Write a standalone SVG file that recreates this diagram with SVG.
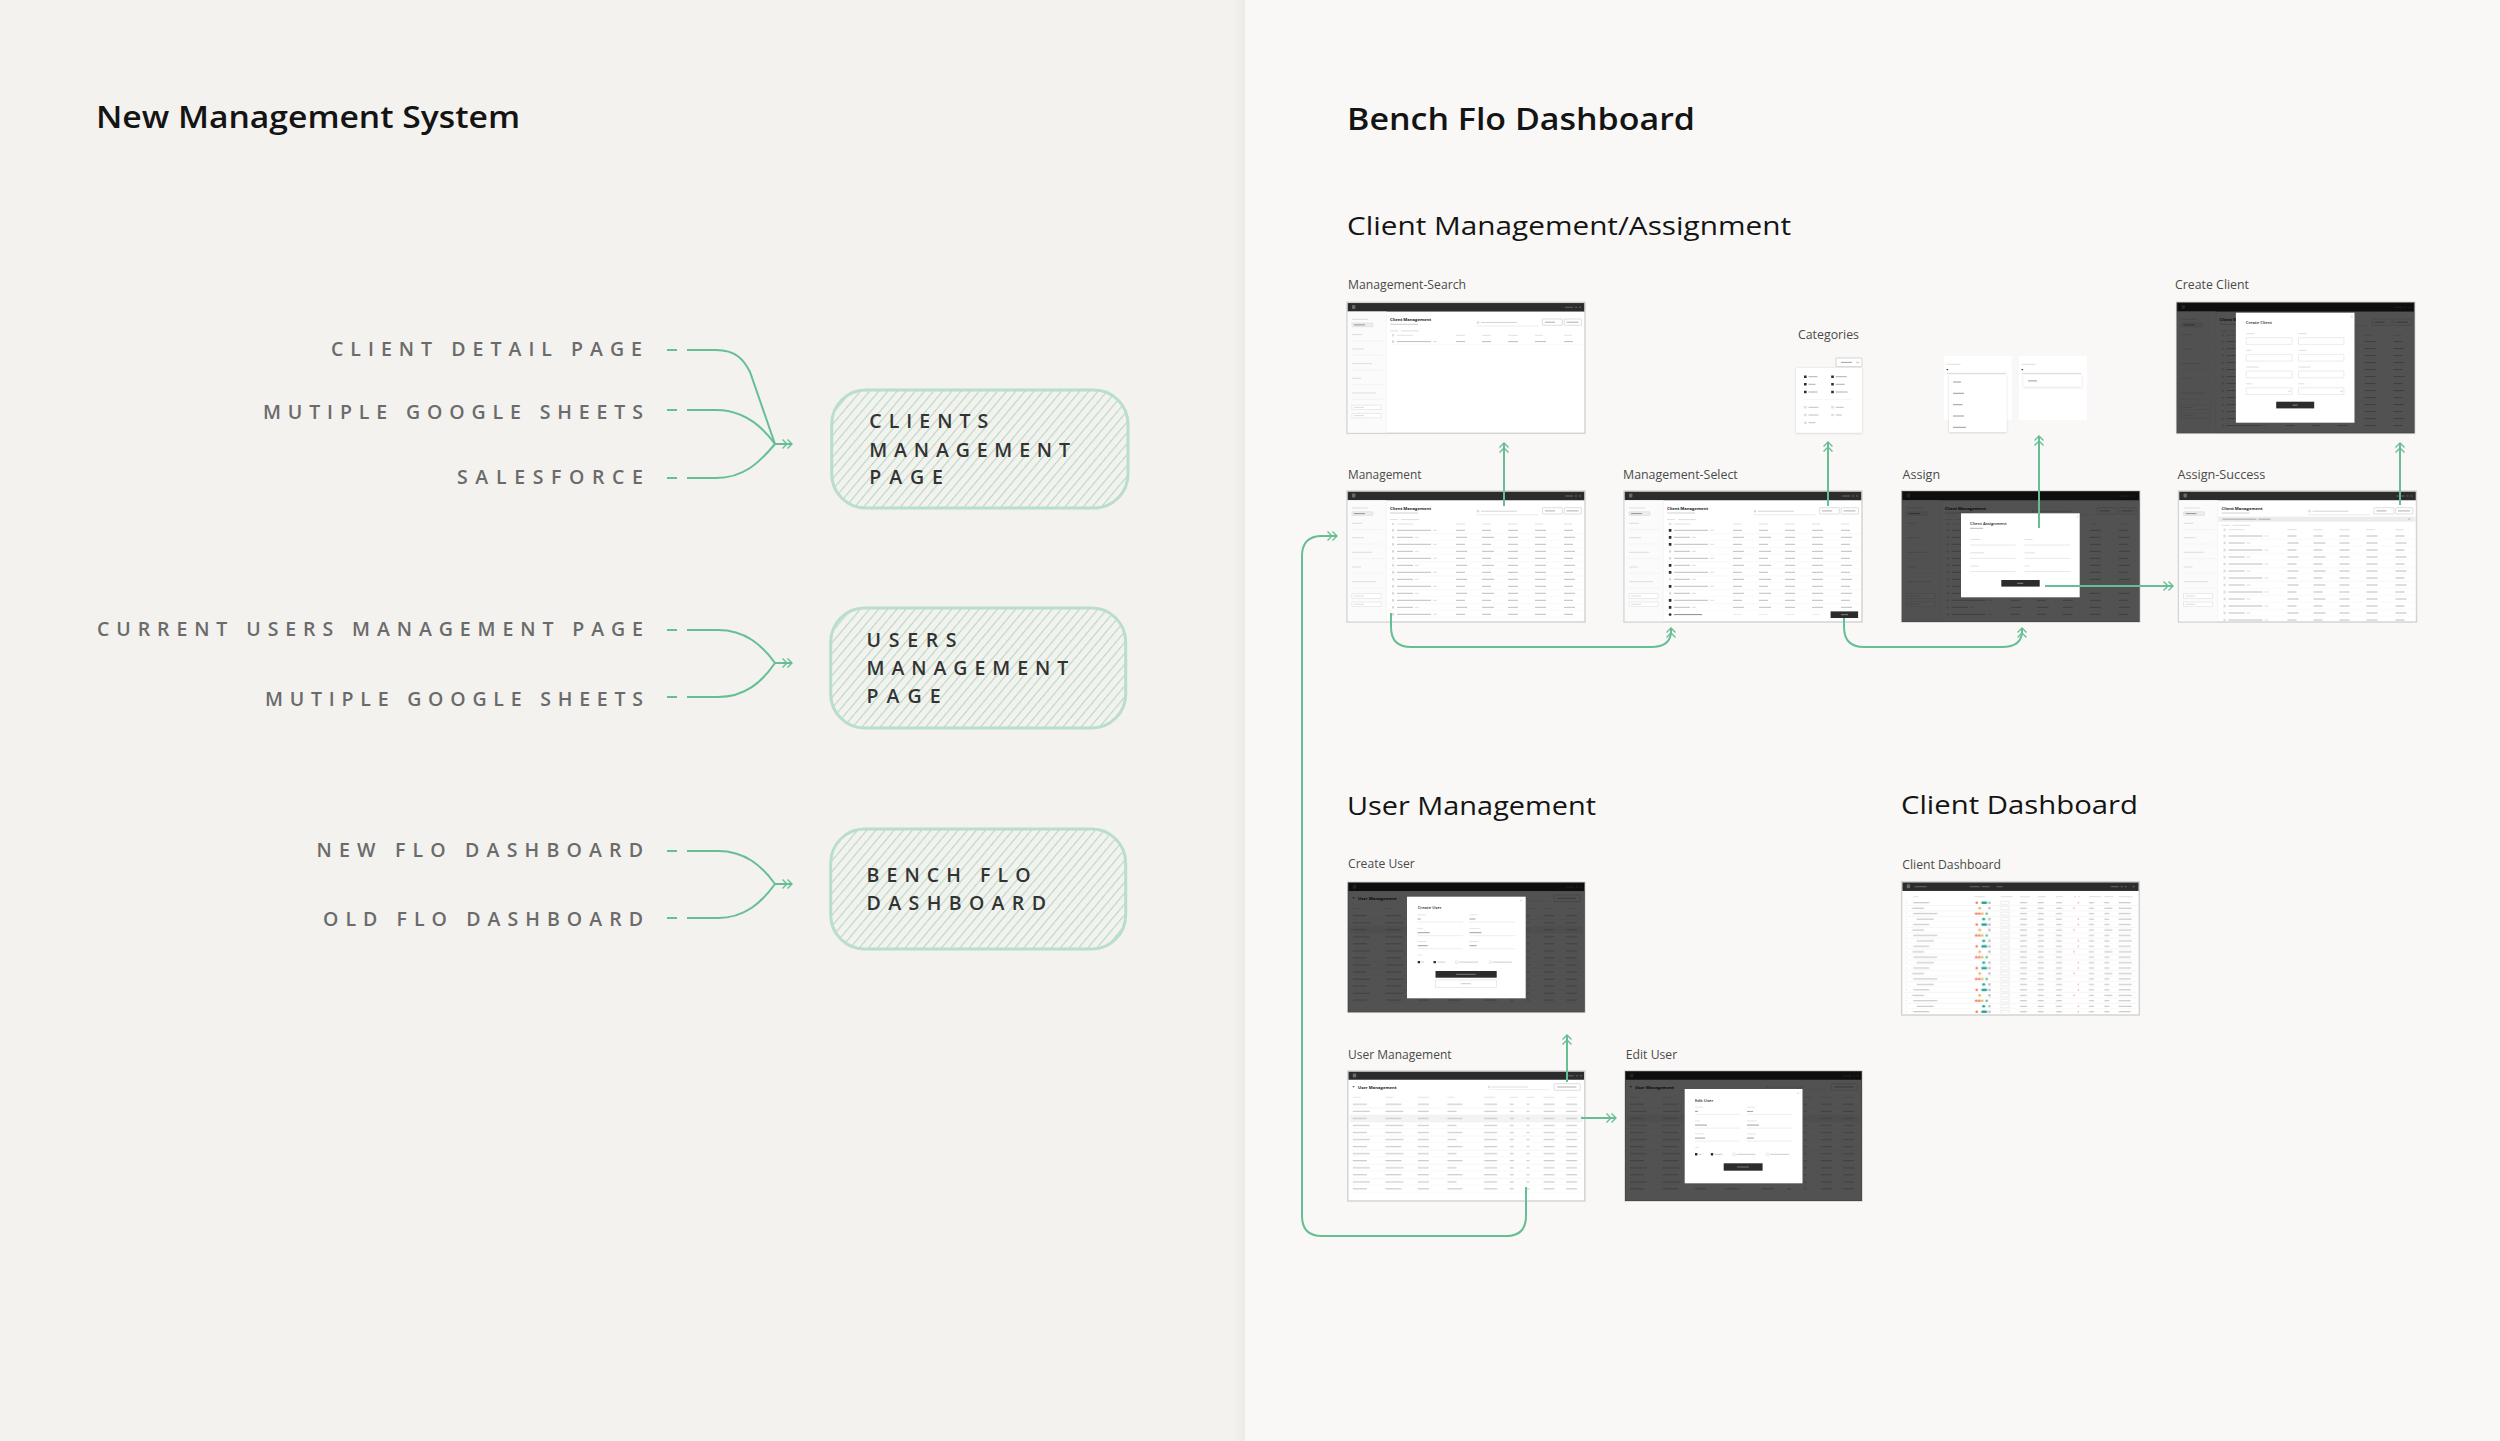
<svg xmlns="http://www.w3.org/2000/svg" width="2500" height="1441" viewBox="0 0 2500 1441">
<style>
.h1{font-family:"Open Sans","Noto Sans",sans-serif;font-weight:600;font-size:31px;fill:#141414}
.h2{font-family:"Open Sans","Noto Sans",sans-serif;font-weight:400;font-size:26px;fill:#141414}
.lbl{font-family:"Open Sans","Noto Sans",sans-serif;font-weight:400;font-size:12.5px;fill:#4a4a4a}
.src{font-family:"Open Sans","Noto Sans",sans-serif;font-weight:600;font-size:19.5px;fill:#6b6b6b}
.boxt{font-family:"Open Sans","Noto Sans",sans-serif;font-weight:600;font-size:19.5px;fill:#333}
.box{fill:url(#hatch);stroke:#b9dec9;stroke-width:3}
.con{fill:none;stroke:#66bf94;stroke-width:2}
.arr{marker-end:url(#chev)}
.sf{fill:#fff;stroke:#d4d4d4;stroke-width:1.5}
.hd{fill:#2c2c2c}
.ov{fill:#000;opacity:.68}
.md{fill:#fff}
.tt{font-family:"Open Sans",sans-serif;font-weight:700;font-size:4.2px;fill:#222}
.gb{stroke:#bdbdbd;stroke-width:1.1;fill:none}
.gl{stroke:#dadada;stroke-width:.9;fill:none}
.sep{stroke:#ececec;stroke-width:.5;fill:none}
.dkf{fill:#2c2c2c}
.btn{fill:#fff;stroke:#bdbdbd;stroke-width:.5}
.inp{fill:#fff;stroke:#d8d8d8;stroke-width:.5}
</style>
<defs>
<pattern id="hatch" patternUnits="userSpaceOnUse" width="7" height="7" patternTransform="rotate(40)">
<rect width="7" height="7" fill="#f3f2ee"/>
<rect x="0" y="0" width="1.1" height="7" fill="#b3dbc5"/>
</pattern>
<linearGradient id="edge" x1="0" y1="0" x2="1" y2="0">
<stop offset="0" stop-color="#000" stop-opacity="0"/>
<stop offset="1" stop-color="#000" stop-opacity=".03"/>
</linearGradient>
<filter id="sh" x="-20%" y="-20%" width="140%" height="140%"><feDropShadow dx="0" dy="0.5" stdDeviation="0.8" flood-opacity="0.18"/></filter>
<marker id="chev" viewBox="0 0 12 12" refX="10.5" refY="6" markerWidth="12" markerHeight="12" markerUnits="userSpaceOnUse" orient="auto">
<path d="M1,1.5 L5.5,6 L1,10.5 M6,1.5 L10.5,6 L6,10.5" fill="none" stroke="#66bf94" stroke-width="1.4"/>
</marker>
<pattern id="cmRows" patternUnits="userSpaceOnUse" x="0" y="35.8" width="238" height="14">
<path class="gb" d="M50,3.5h34M109,3.5h9M135,3.5h9M161,3.5h10M188,3.5h11M217,3.5h9M50,10.5h16M109,10.5h11M135,10.5h12M161,10.5h10M188,10.5h11M217,10.5h11"/>
<path class="gl" d="M86,3.5h4M68,10.5h4"/>
<path d="M45,2.4h2.2v2.2h-2.2zM45,9.4h2.2v2.2h-2.2z" fill="#d0d0d0"/>
<path class="sep" d="M42,6.9h194M42,13.9h194"/>
</pattern>
<pattern id="umRows" patternUnits="userSpaceOnUse" x="0" y="29.8" width="237" height="14.1">
<path class="gb" d="M5,3.5h14M37.6,3.5h16M70,3.5h11M99.6,3.5h15M136.4,3.5h13M162,3.5h4M178.7,3.5h3M195.7,3.5h11M218.3,3.5h11M5,10.55h17M37.6,10.55h18M70,10.55h11M99.6,10.55h9M136.4,10.55h13M162,10.55h4M178.7,10.55h3M195.7,10.55h11M218.3,10.55h11"/>
<path class="sep" d="M3,7h231M3,14.05h231"/>
</pattern>
<pattern id="cdRows" patternUnits="userSpaceOnUse" x="0" y="18.3" width="238" height="21.8">
<path class="gl" d="M4,2.7h1.2M4,8.15h1.2M4,13.6h1.2M4,19.05h1.2"/>
<path class="gb" d="M11.6,2.7h16M10.5,8.15h12M11.6,13.6h24M15,19.05h17M118.3,2.7h7M136,2.7h6M154.3,2.7h6M187.3,2.7h5M202.6,2.7h5M217,2.7h12M118.3,8.15h7M136,8.15h6M154.3,8.15h6M187.3,8.15h5M202.6,8.15h8M217,8.15h13M118.3,13.6h7M136,13.6h6M154.3,13.6h6M187.3,13.6h5M202.6,13.6h5M217,13.6h12M118.3,19.05h7M136,19.05h6M154.3,19.05h6M187.3,19.05h5M202.6,19.05h5M217,19.05h13"/>
<path d="M99,1.2h8.6v3h-8.6zM99,6.65h8.6v3h-8.6zM99,12.1h8.6v3h-8.6zM99,17.55h8.6v3h-8.6z" fill="#fff" stroke="#cfcfcf" stroke-width=".4"/>
<circle cx="75" cy="2.7" r="1.3" fill="#ee7b5b"/><rect x="79.5" y="1.5" width="6" height="2.4" rx="1.2" fill="#27a59a"/><rect x="86.5" y="1.5" width="2.4" height="2.4" rx=".6" fill="#bdbdbd"/>
<circle cx="78" cy="8.15" r="1.3" fill="#e3b35a"/><rect x="86.5" y="6.95" width="2.4" height="2.4" rx=".6" fill="#bdbdbd"/>
<circle cx="74.5" cy="13.6" r="1.3" fill="#ee7b5b"/><circle cx="77.5" cy="13.6" r="1.3" fill="#ee7b5b"/><circle cx="80.5" cy="13.6" r="1.3" fill="#e3b35a"/><circle cx="85" cy="13.6" r="1.3" fill="#5cc08b"/>
<rect x="80.5" y="17.85" width="3" height="2.4" rx="1.2" fill="#27a59a"/><rect x="86.5" y="17.85" width="2.4" height="2.4" rx=".6" fill="#bdbdbd"/>
<path d="M176.6,1.9v1.6M172.3,7.35v1.6M176.6,18.25v1.6" stroke="#ee7b5b" stroke-width=".8"/>
<path class="sep" d="M2,5.4h234M2,10.85h234M2,16.3h234M2,21.75h234"/>
</pattern>
<g id="cmTop">
<rect class="sf" x="0" y="0" width="238" height="131"/>
<rect class="hd" x=".75" y=".75" width="236.5" height="8.5"/>
<rect x="5" y="2.6" width="3.4" height="4" rx="1" fill="#6a6a6a"/>
<path d="M218,5h8M228,5h2M232,5h2" stroke="#666" stroke-width="1"/>
<rect x=".75" y="9.25" width="38.5" height="121" fill="#fbfbfb"/>
<path d="M39.25,9.25V130.25" class="sep"/>
<path class="gl" d="M5,17h16M5,32.3h10M5,46.7h12M5,61.3h20M5,76h9M5,90.7h24"/>
<path class="sep" d="M4,38.6h32M4,53h32M4,67.6h32M4,82.3h32M4,97h32"/>
<rect x="5" y="20.8" width="21" height="3.6" rx=".6" fill="#eee" stroke="#ccc" stroke-width=".4"/>
<path d="M7,22.6h11" stroke="#8a8a8a" stroke-width=".9"/>
<rect x="5" y="102.8" width="29" height="4.6" class="inp"/>
<rect x="5" y="111" width="29" height="4.6" class="inp"/>
<path class="gl" d="M7,105.1h10M7,113.3h10"/>
<text class="tt" x="43" y="19">Client Management</text>
<path d="M43,22h28" stroke="#c4c4c4" stroke-width=".8"/>
<circle cx="131" cy="20.2" r=".9" fill="none" stroke="#999" stroke-width=".4"/>
<path d="M134,20.2h36" stroke="#cfcfcf" stroke-width=".9"/>
<path d="M129.6,23.7h62" stroke="#d0d0d0" stroke-width=".4"/>
<rect class="btn" x="195.4" y="16.7" width="19.9" height="6.3" rx=".6"/>
<rect class="btn" x="217.2" y="16.7" width="17.2" height="6.3" rx=".6"/>
<path d="M198,19.9h10M219.5,19.9h12" stroke="#999" stroke-width=".8"/>
</g>
<g id="cmHead">
<path d="M43,28.6h8M54,28.6h18" stroke="#d6d6d6" stroke-width=".8"/>
<rect x="45" y="31.9" width="2.2" height="2.2" fill="#dcdcdc"/>
<path d="M50,33h16M109,33h9M135,33h9M161,33h10M188,33h8M217,33h8" stroke="#dedede" stroke-width=".9"/>
</g>
<g id="umTop">
<rect class="sf" x="0" y="0" width="237" height="130"/>
<rect class="hd" x=".75" y=".75" width="235.5" height="8"/>
<rect x="5" y="2.4" width="3.4" height="4" rx="1" fill="#6a6a6a"/>
<path d="M218,4.8h8M228,4.8h2M232,4.8h2" stroke="#666" stroke-width="1"/>
<path d="M4.4,15l1.4,1.8l1.4,-1.8z" fill="#777"/>
<text class="tt" x="10.3" y="17.6">User Management</text>
<circle cx="141.5" cy="16" r=".9" fill="none" stroke="#aaa" stroke-width=".4"/>
<path d="M144,16h36" stroke="#dadada" stroke-width=".9"/>
<path d="M140.4,18.6h61.3" stroke="#d6d6d6" stroke-width=".4"/>
<rect class="btn" x="206.4" y="12.7" width="26.1" height="6.6" rx=".6"/>
<path d="M209.5,16h19" stroke="#999" stroke-width=".8"/>
<path d="M5,26.3h8M37.6,26.3h8M70,26.3h11M99.6,26.3h7M136.4,26.3h11M162,26.3h8M178.7,26.3h8M195.7,26.3h11M218.3,26.3h11" stroke="#dedede" stroke-width=".8"/>
<rect x="2" y="43.9" width="233" height="7" fill="#f3f3f3"/>
<rect x="0" y="29.8" width="237" height="91.7" fill="url(#umRows)"/>
</g>
</defs>

<!-- backgrounds -->
<rect x="0" y="0" width="1245" height="1441" fill="#f3f2ee"/>
<rect x="1245" y="0" width="1255" height="1441" fill="#f9f8f6"/>
<rect x="1233" y="0" width="12" height="1441" fill="url(#edge)"/>

<!-- headings -->
<text class="h1" x="96" y="128" textLength="424" lengthAdjust="spacingAndGlyphs">New Management System</text>
<text class="h1" x="1347" y="130" textLength="348" lengthAdjust="spacingAndGlyphs">Bench Flo Dashboard</text>
<text class="h2" x="1347" y="235" textLength="444" lengthAdjust="spacingAndGlyphs">Client Management/Assignment</text>
<text class="h2" x="1347" y="815" textLength="249" lengthAdjust="spacingAndGlyphs">User Management</text>
<text class="h2" x="1901" y="814" textLength="237" lengthAdjust="spacingAndGlyphs">Client Dashboard</text>

<!-- left sources -->
<g id="sources">
<text class="src" x="331" y="356" textLength="311">CLIENT DETAIL PAGE</text>
<text class="src" x="263" y="419" textLength="380">MUTIPLE GOOGLE SHEETS</text>
<text class="src" x="457" y="484" textLength="186">SALESFORCE</text>
<text class="src" x="97" y="636" textLength="546">CURRENT USERS MANAGEMENT PAGE</text>
<text class="src" x="265" y="706" textLength="378">MUTIPLE GOOGLE SHEETS</text>
<text class="src" x="316.5" y="857" textLength="326.5">NEW FLO DASHBOARD</text>
<text class="src" x="323" y="926" textLength="320">OLD FLO DASHBOARD</text>
</g>

<g id="node-clients-management-page">
<rect class="box" x="831.7" y="390" width="296.3" height="118" rx="34"/>
<text class="boxt" x="869.3" y="428.3" textLength="119">CLIENTS</text>
<text class="boxt" x="869.3" y="456.7" textLength="200.7">MANAGEMENT</text>
<text class="boxt" x="869.3" y="484" textLength="73.7">PAGE</text>
</g>
<g id="node-users-management-page">
<rect class="box" x="830.7" y="608" width="295" height="120" rx="34"/>
<text class="boxt" x="866.6" y="647.3" textLength="90">USERS</text>
<text class="boxt" x="866.6" y="675" textLength="201.6">MANAGEMENT</text>
<text class="boxt" x="866.6" y="702.7" textLength="74">PAGE</text>
</g>
<g id="node-bench-flo-dashboard">
<rect class="box" x="830.7" y="829" width="295" height="120" rx="34"/>
<text class="boxt" x="866.6" y="882.3" textLength="164">BENCH FLO</text>
<text class="boxt" x="866.6" y="910" textLength="179.4">DASHBOARD</text>
</g>

<!-- screenshot labels -->
<g id="screen-labels">
<text class="lbl" x="1348" y="289" textLength="118" lengthAdjust="spacingAndGlyphs">Management-Search</text>
<text class="lbl" x="1798" y="339" textLength="61" lengthAdjust="spacingAndGlyphs">Categories</text>
<text class="lbl" x="2175" y="289" textLength="74" lengthAdjust="spacingAndGlyphs">Create Client</text>
<text class="lbl" x="1348" y="479" textLength="73.5" lengthAdjust="spacingAndGlyphs">Management</text>
<text class="lbl" x="1623" y="479" textLength="114.8" lengthAdjust="spacingAndGlyphs">Management-Select</text>
<text class="lbl" x="1902.5" y="479" textLength="37.6" lengthAdjust="spacingAndGlyphs">Assign</text>
<text class="lbl" x="2177.4" y="479" textLength="88" lengthAdjust="spacingAndGlyphs">Assign-Success</text>
<text class="lbl" x="1348" y="868.3" textLength="66.8" lengthAdjust="spacingAndGlyphs">Create User</text>
<text class="lbl" x="1902.3" y="869" textLength="98.7" lengthAdjust="spacingAndGlyphs">Client Dashboard</text>
<text class="lbl" x="1348" y="1059.3" textLength="103.6" lengthAdjust="spacingAndGlyphs">User Management</text>
<text class="lbl" x="1625.8" y="1059.3" textLength="51.4" lengthAdjust="spacingAndGlyphs">Edit User</text>
</g>

<!-- Management-Search -->
<g id="node-management-search" transform="translate(1347,302.3)">
<use href="#cmTop"/><use href="#cmHead"/>
<rect x="42" y="35.8" width="194" height="7" fill="url(#cmRows)"/>
</g>

<!-- Management -->
<g id="node-management" transform="translate(1347,491)">
<use href="#cmTop"/><use href="#cmHead"/>
<rect x="42" y="35.8" width="194" height="91" fill="url(#cmRows)"/>
</g>

<!-- Management-Select -->
<g id="node-management-select" transform="translate(1624,491)">
<use href="#cmTop"/><use href="#cmHead"/>
<rect x="42" y="35.8" width="194" height="84" fill="url(#cmRows)"/>
<path class="dkf" d="M44.8,38.1h2.6v2.6h-2.6zM44.8,45.1h2.6v2.6h-2.6zM44.8,52.1h2.6v2.6h-2.6zM44.8,73.1h2.6v2.6h-2.6zM44.8,80.1h2.6v2.6h-2.6zM44.8,94.1h2.6v2.6h-2.6zM44.8,108.1h2.6v2.6h-2.6zM44.8,115.1h2.6v2.6h-2.6z"/>
<circle cx="46.1" cy="123.6" r="1.4" class="dkf"/>
<path d="M50,123.6h28" stroke="#8a8a8a" stroke-width="1"/>
<path d="M109,123.6h9M135,123.6h9M161,123.6h10M188,123.6h8" stroke="#ececec" stroke-width="1"/>
<rect x="206.6" y="120.4" width="27.5" height="6.6" class="dkf"/>
<path d="M217,123.7h7" stroke="#aaa" stroke-width=".7"/>
</g>

<!-- Categories -->
<g id="node-categories">
<rect x="1836" y="358" width="26" height="8.7" rx=".8" fill="#fff" stroke="#bbb" stroke-width=".6"/>
<path d="M1841,362.4h11" stroke="#999" stroke-width=".9"/>
<path d="M1856.5,361.6l1.3,1.6l1.3,-1.6" fill="none" stroke="#777" stroke-width=".5"/>
<rect x="1796" y="368" width="66" height="64.7" fill="#fff" filter="url(#sh)"/>
<path class="dkf" d="M1804,375.4h2.6v2.6h-2.6zM1804,383h2.6v2.6h-2.6zM1804,390.7h2.6v2.6h-2.6zM1831.2,375.4h2.6v2.6h-2.6zM1831.2,383h2.6v2.6h-2.6zM1831.2,390.7h2.6v2.6h-2.6z"/>
<path d="M1808.5,376.7h9M1808.5,384.3h7M1808.5,392h9M1835.7,376.7h11M1835.7,384.3h9M1835.7,392h12" stroke="#9a9a9a" stroke-width=".8"/>
<path class="sep" d="M1803,399.5h48"/>
<path d="M1804,406h2.6v2.6h-2.6zM1804,413.7h2.6v2.6h-2.6zM1804,421.4h2.6v2.6h-2.6zM1831.2,406h2.6v2.6h-2.6zM1831.2,413.7h2.6v2.6h-2.6z" fill="#dedede"/>
<path d="M1808.5,407.3h10M1808.5,415h10M1808.5,422.7h7M1835.7,407.3h8M1835.7,415h6" stroke="#b0b0b0" stroke-width=".8"/>
</g>

<!-- Assign dropdowns -->
<g id="node-assign-dropdowns">
<rect x="1944" y="356" width="67.7" height="64" fill="#fff"/>
<path d="M1946.5,364.3h14" stroke="#d6d6d6" stroke-width=".8"/>
<path d="M1946.5,369.6h1.6" stroke="#444" stroke-width="1.2"/>
<path d="M1946.5,373.4h59.5" stroke="#cfcfcf" stroke-width=".7"/>
<rect x="1949" y="375" width="57.5" height="57" fill="#fff" filter="url(#sh)"/>
<path d="M1953,382h8M1953,393.3h11M1953,404.7h9.5M1953,416h11M1953,427.3h13" stroke="#8f8f8f" stroke-width=".9"/>
<rect x="2019" y="356" width="67.8" height="64" fill="#fff"/>
<path d="M2021.5,364.3h14" stroke="#d6d6d6" stroke-width=".8"/>
<path d="M2021.5,369.6h1.6" stroke="#444" stroke-width="1.2"/>
<path d="M2021.5,373.4h59.5" stroke="#cfcfcf" stroke-width=".7"/>
<rect x="2023.5" y="375" width="58.2" height="11.7" fill="#fff" filter="url(#sh)"/>
<path d="M2028,380.9h9" stroke="#8f8f8f" stroke-width=".9"/>
</g>

<!-- Create Client -->
<g id="node-create-client" transform="translate(2176.6,302.3)">
<use href="#cmTop"/><use href="#cmHead"/>
<rect x="42" y="35.8" width="194" height="91" fill="url(#cmRows)"/>
<rect x="0" y="0" width="238" height="131" class="ov"/>
<rect class="md" x="59.3" y="10.4" width="118.6" height="110"/>
<text class="tt" x="69.2" y="22.2" style="font-weight:600">Create Client</text>
<path d="M174.5,13.5l1.6,1.6M176.1,13.5l-1.6,1.6" stroke="#aaa" stroke-width=".4"/>
<path d="M69.6,31.4h8M121.9,31.4h8M69.6,48.1h5M121.9,48.1h8M69.6,64.8h12M121.9,64.8h12M69.6,81.5h6M121.9,81.5h6" stroke="#d0d0d0" stroke-width=".7"/>
<path class="inp" d="M69.6,35.4h45.9v6.7h-45.9zM121.9,35.4h45.4v6.7h-45.4zM69.6,52.1h45.9v6.7h-45.9zM121.9,52.1h45.4v6.7h-45.4zM69.6,68.8h45.9v6.7h-45.9zM121.9,68.8h45.4v6.7h-45.4zM69.6,85.5h45.9v6.7h-45.9zM121.9,85.5h45.4v6.7h-45.4z"/>
<path d="M112,88.3l1,1.2l1,-1.2M164,88.3l1,1.2l1,-1.2" fill="none" stroke="#888" stroke-width=".4"/>
<rect x="99.6" y="99.4" width="38" height="6.7" class="dkf"/>
<path d="M116,102.8h5" stroke="#aaa" stroke-width=".7"/>
</g>

<!-- Assign -->
<g id="node-assign" transform="translate(1901.7,491)">
<use href="#cmTop"/><use href="#cmHead"/>
<rect x="42" y="35.8" width="194" height="91" fill="url(#cmRows)"/>
<rect x="0" y="0" width="238" height="131" class="ov"/>
<rect class="md" x="59.3" y="22.3" width="118.7" height="84"/>
<text class="tt" x="68.4" y="34.3" style="font-weight:600">Client Assignment</text>
<path d="M68.4,37.3h13" stroke="#999" stroke-width=".7"/>
<path d="M175,25l1.4,1.4M176.4,25l-1.4,1.4" stroke="#aaa" stroke-width=".4"/>
<path d="M68.4,48.5h10M122.9,48.5h8M68.4,61.8h14M122.9,61.8h10M68.4,75.1h9M122.9,75.1h5" stroke="#d4d4d4" stroke-width=".7"/>
<path d="M68.4,54h45.4M122.9,54h45.9M68.4,67.3h45.4M122.9,67.3h45.9M68.4,80.6h45.4M122.9,80.6h45.9" stroke="#d0d0d0" stroke-width=".5"/>
<rect x="99.6" y="89" width="38.4" height="6.6" class="dkf"/>
<path d="M115.5,92.3h6" stroke="#aaa" stroke-width=".7"/>
</g>

<!-- Assign-Success -->
<g id="node-assign-success" transform="translate(2178.5,491)">
<use href="#cmTop"/>
<rect x="40" y="25.7" width="197" height="5" fill="#ececea"/>
<path d="M44,28.2h34M80,28.2h12" stroke="#9a9a9a" stroke-width=".8"/>
<path d="M230,27.4l1.4,1.4M231.4,27.4l-1.4,1.4" stroke="#888" stroke-width=".4"/>
<g transform="translate(0,5.7)"><use href="#cmHead"/>
<rect x="42" y="35.8" width="194" height="88.4" fill="url(#cmRows)"/></g>
</g>

<!-- Create User -->
<g id="node-create-user" transform="translate(1347.8,882.3)">
<use href="#umTop"/>
<rect x="0" y="0" width="237" height="130" class="ov"/>
<rect class="md" x="59.2" y="14.4" width="118.7" height="101.6"/>
<text class="tt" x="69.9" y="27.2" style="font-weight:600">Create User</text>
<path d="M172.5,17.5l1.4,1.4M173.9,17.5l-1.4,1.4" stroke="#aaa" stroke-width=".4"/>
<path d="M69.9,32.5h8M121.7,32.5h8M69.9,46.2h5M121.7,46.2h10M69.9,59.2h9M121.7,59.2h9M69.9,72.6h4" stroke="#d4d4d4" stroke-width=".6"/>
<path d="M69.9,36.7h3M121.7,36.7h6M69.9,50.4h12M121.7,50.4h12M69.9,63.4h10M121.7,63.4h7" stroke="#777" stroke-width=".7"/>
<path d="M69.9,39.7h45.3M121.7,39.7h45.5M69.9,53.4h45.3M121.7,53.4h45.5M69.9,66.4h45.3M121.7,66.4h45.5" stroke="#d4d4d4" stroke-width=".4"/>
<path d="M69.9,78.6h2.4v2.4h-2.4zM85.7,78.6h2.4v2.4h-2.4z" class="dkf"/>
<path d="M107.8,78.6h2.4v2.4h-2.4zM141.4,78.6h2.4v2.4h-2.4z" fill="#fff" stroke="#bbb" stroke-width=".3"/>
<path d="M73.5,79.8h3M89.3,79.8h8M111.4,79.8h19M145,79.8h19" stroke="#aaa" stroke-width=".6"/>
<rect x="87.7" y="88.7" width="61.2" height="6.7" class="dkf"/>
<path d="M108,92h20" stroke="#aaa" stroke-width=".6"/>
<rect x="87.7" y="97.7" width="61.2" height="7.4" fill="#fff" stroke="#ccc" stroke-width=".4"/>
<path d="M113,101.4h10" stroke="#aaa" stroke-width=".6"/>
</g>

<!-- User Management -->
<g id="node-user-management" transform="translate(1347.8,1071)">
<use href="#umTop"/>
</g>

<!-- Edit User -->
<g id="node-edit-user" transform="translate(1625,1071)">
<use href="#umTop"/>
<rect x="0" y="0" width="237" height="130" class="ov"/>
<rect class="md" x="59.7" y="18" width="117.8" height="94.3"/>
<text class="tt" x="70" y="30.5" style="font-weight:600">Edit User</text>
<path d="M172.5,21.5l1.4,1.4M173.9,21.5l-1.4,1.4" stroke="#aaa" stroke-width=".4"/>
<path d="M70,36.2h8M122,36.2h8M70,49.9h5M122,49.9h10M70,62.9h9M122,62.9h9M70,76.3h4" stroke="#d4d4d4" stroke-width=".6"/>
<path d="M70,40.4h3M122,40.4h6M70,54.1h12M122,54.1h12M70,67.1h10M122,67.1h7" stroke="#777" stroke-width=".7"/>
<path d="M70,43.4h45.3M122,43.4h45.5M70,57.1h45.3M122,57.1h45.5M70,70.1h45.3M122,70.1h45.5" stroke="#d4d4d4" stroke-width=".4"/>
<path d="M70,82.1h2.4v2.4h-2.4zM85.8,82.1h2.4v2.4h-2.4z" class="dkf"/>
<path d="M107.9,82.1h2.4v2.4h-2.4zM141.5,82.1h2.4v2.4h-2.4z" fill="#fff" stroke="#bbb" stroke-width=".3"/>
<path d="M73.6,83.3h3M89.4,83.3h8M111.5,83.3h19M145.1,83.3h19" stroke="#aaa" stroke-width=".6"/>
<rect x="98.7" y="92.3" width="38.9" height="7.4" class="dkf"/>
<path d="M112,96h12" stroke="#aaa" stroke-width=".6"/>
</g>

<!-- Client Dashboard -->
<g id="node-client-dashboard" transform="translate(1901.7,881.7)">
<rect class="sf" x="0" y="0" width="237.6" height="133.3"/>
<rect class="hd" x=".75" y=".75" width="236.1" height="8.5"/>
<rect x="5" y="2.6" width="3.4" height="4" rx="1" fill="#6a6a6a"/>
<path d="M13,5h12M68,5h10M80,5h8M95,5h6M209,5h8M219,5h2M223,5h2M231,5h2" stroke="#666" stroke-width="1"/>
<path d="M11.6,15h5M73,15h10M99,15h12M118.3,15h10M136,15h8M154.3,15h7M172.3,15h2M176.6,15h2M187.3,15h12M202.6,15h9M217,15h14" stroke="#d6d6d6" stroke-width=".8"/>
<rect x="2" y="18.3" width="234" height="113" fill="url(#cdRows)"/>
</g>

<!-- connectors -->
<g id="connectors">
<path class="con" d="M667,350H677M667,410H677M667,478H677M667,630H677M667,697H677M667,851H677M667,918H677"/>
<path class="con" d="M687,350H716C736,350 744,360 750,372L775,444"/>
<path class="con" d="M687,410H716C744,410 762,426 775,444"/>
<path class="con" d="M687,478H716C744,478 760,462 775,444"/>
<path class="con arr" d="M775,444H792"/>
<path class="con" d="M687,630H718C745,630 762,645 775,663"/>
<path class="con" d="M687,697H718C745,697 762,682 775,663"/>
<path class="con arr" d="M775,663H792"/>
<path class="con" d="M687,851H718C745,851 762,866 775,884"/>
<path class="con" d="M687,918H718C745,918 762,902 775,884"/>
<path class="con arr" d="M775,884H792"/>

<path class="con arr" d="M1504,506V443"/>
<path class="con arr" d="M1828,506V442"/>
<path class="con arr" d="M1391,613V627Q1391,647 1411,647H1651Q1671,647 1671,631V628"/>
<path class="con arr" d="M1844,618V627Q1844,647 1864,647H2002Q2022,647 2022,631V628"/>
<path class="con arr" d="M2039,528V436"/>
<path class="con arr" d="M2045,586H2173"/>
<path class="con arr" d="M2400,505V443"/>
<path class="con arr" d="M1567,1082V1035"/>
<path class="con arr" d="M1581,1118H1616"/>
<path class="con arr" d="M1526,1187V1216Q1526,1236 1506,1236H1322Q1302,1236 1302,1216V556Q1302,536 1322,536H1337"/>
</g>
</svg>
